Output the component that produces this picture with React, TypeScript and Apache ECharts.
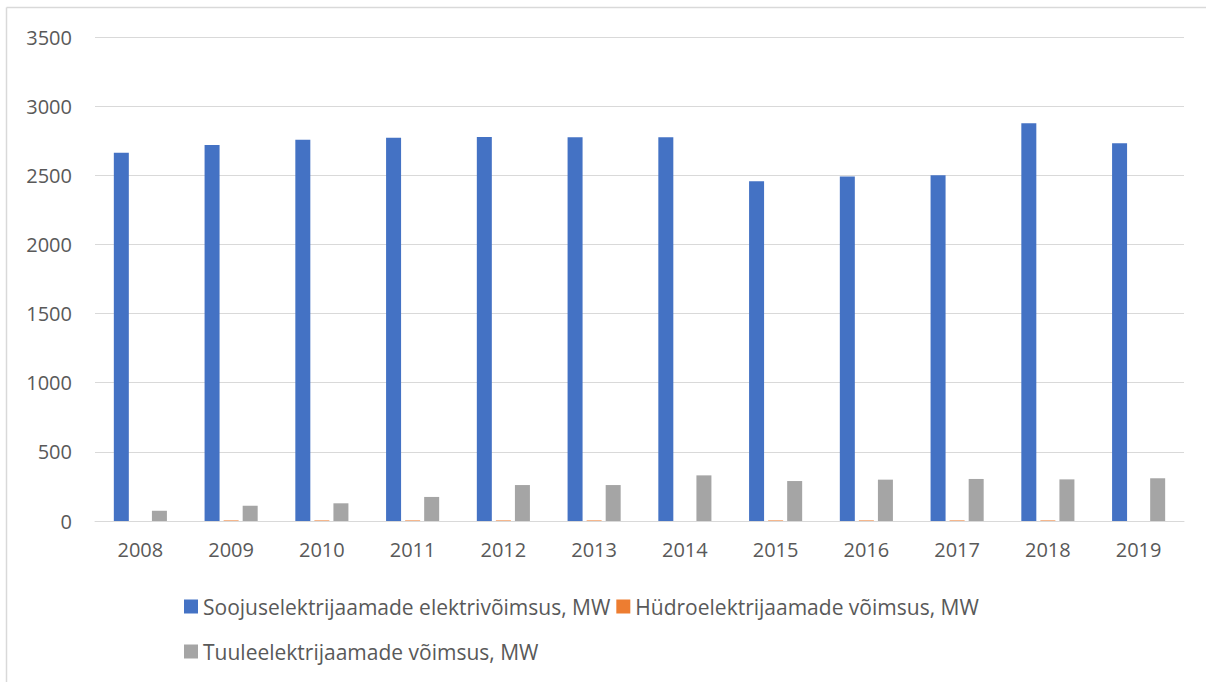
import React, { useEffect, useRef } from "react";
import * as echarts from "echarts";

const years = ["2008", "2009", "2010", "2011", "2012", "2013", "2014", "2015", "2016", "2017", "2018", "2019"];
const thermal = [2663, 2719, 2757, 2772, 2777, 2775, 2775, 2456, 2492, 2500, 2876, 2731];
const hydro = [0, 4, 4, 4, 4, 4, 0, 4, 4, 4, 4, 0];
const wind = [74, 111, 128, 174, 260, 260, 330, 289, 299, 304, 301, 309];
const seriesNames = [
  "Soojuselektrijaamade elektrivõimsus, MW",
  "Hüdroelektrijaamade võimsus, MW",
  "Tuuleelektrijaamade võimsus, MW",
];
const colors = ["#4472C4", "#ED7D31", "#A5A5A5"];

const FONT = "Open Sans";

export default function App() {
  const ref = useRef<HTMLDivElement>(null);
  useEffect(() => {
    if (!ref.current) return;
    const chart = echarts.init(ref.current, null, { renderer: "svg" });
    const legendCommon = {
      orient: "horizontal",
      icon: "rect",
      itemWidth: 14,
      itemHeight: 14,
      itemGap: 6,
      selectedMode: false,
      textStyle: { fontFamily: FONT, fontSize: 21, color: "#595959" },
    };
    chart.setOption({
      animation: false,
      color: colors,
      textStyle: { fontFamily: FONT },
      graphic: [
        {
          type: "line",
          shape: { x1: 6.5, y1: 7.5, x2: 1206, y2: 7.5 },
          style: { stroke: "#d9d9d9", lineWidth: 1.5 },
          silent: true,
        },
        {
          type: "line",
          shape: { x1: 6.5, y1: 7.5, x2: 6.5, y2: 682 },
          style: { stroke: "#d9d9d9", lineWidth: 1.5 },
          silent: true,
        },
      ],
      grid: { left: 95, right: 22, top: 37, bottom: 161, containLabel: false },
      legend: [
        { ...legendCommon, left: 179, top: 591, data: [seriesNames[0], seriesNames[1]] },
        { ...legendCommon, left: 179, top: 636, data: [seriesNames[2]] },
      ],
      xAxis: {
        type: "category",
        data: years,
        axisLine: { lineStyle: { color: "#d9d9d9", width: 1 } },
        axisTick: { show: false },
        axisLabel: { color: "#595959", fontSize: 20, fontFamily: FONT, margin: 18 },
      },
      yAxis: {
        type: "value",
        min: 0,
        max: 3500,
        interval: 500,
        axisLine: { show: false },
        axisTick: { show: false },
        splitLine: { lineStyle: { color: "#d9d9d9", width: 1 } },
        axisLabel: {
          color: "#595959",
          fontSize: 20,
          fontFamily: FONT,
          margin: 23,
          formatter: (v: number) => String(v),
        },
      },
      series: [
        { name: seriesNames[0], type: "bar", data: thermal, barWidth: 15, barGap: "27%" },
        { name: seriesNames[1], type: "bar", data: hydro, barWidth: 15, barGap: "27%" },
        { name: seriesNames[2], type: "bar", data: wind, barWidth: 15, barGap: "27%" },
      ],
    });
    return () => chart.dispose();
  }, []);
  return (
    <div
      ref={ref}
      style={{ position: "fixed", left: 0, top: 0, width: 1206, height: 682, background: "#fff" }}
    />
  );
}
